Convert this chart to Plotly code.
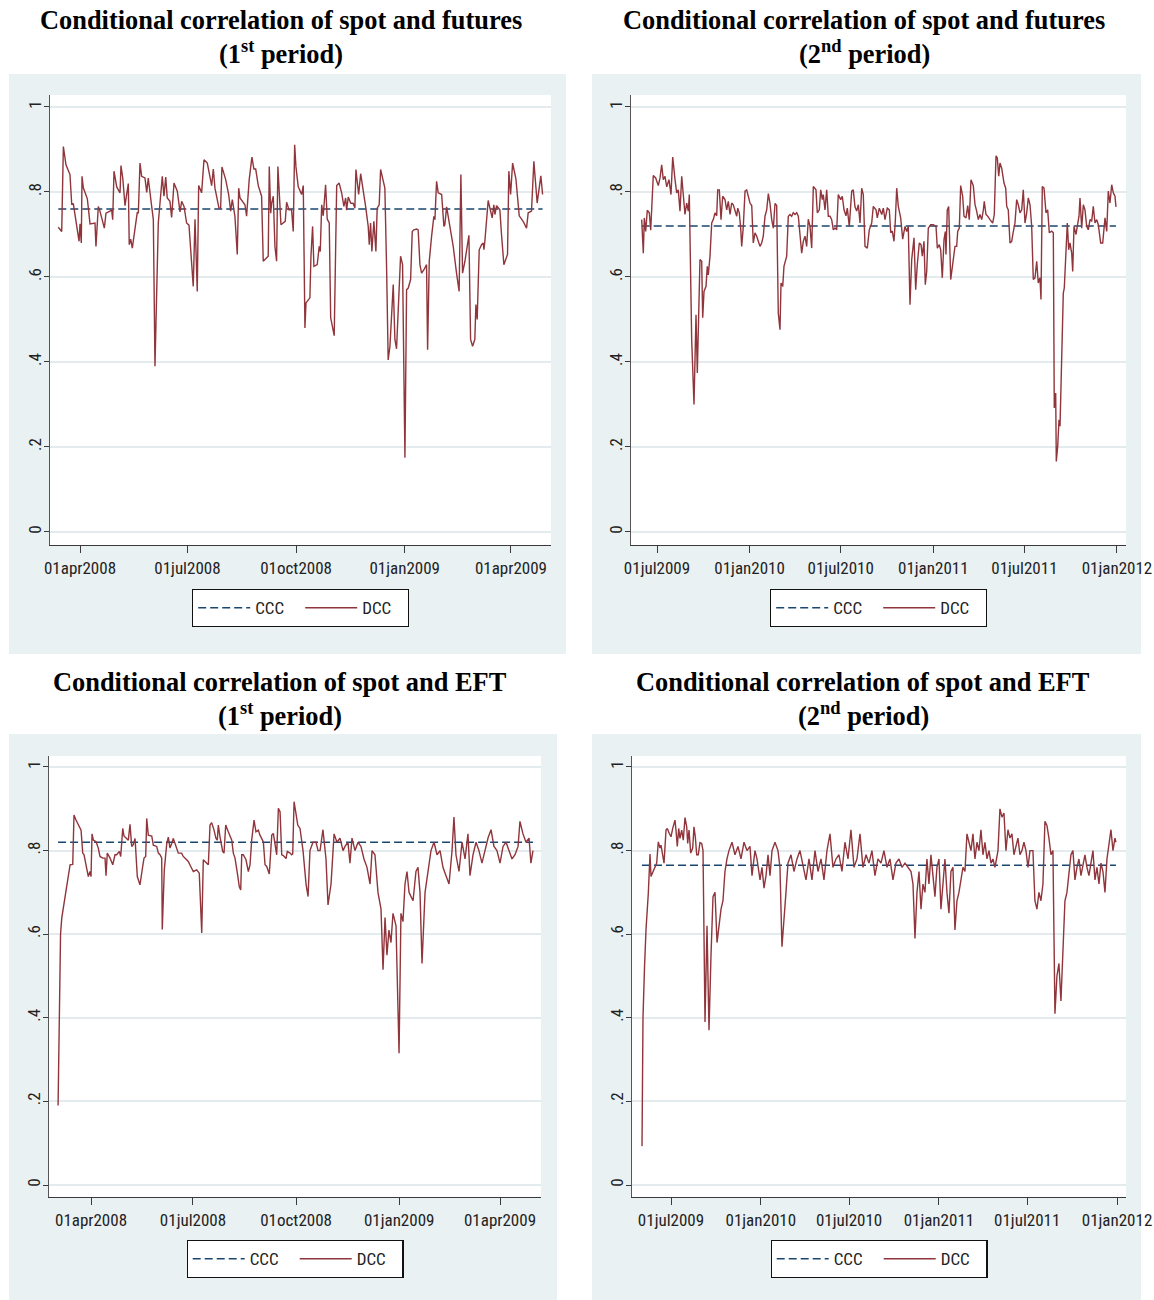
import pandas as pd
import plotly.graph_objects as go

W, H = 1154, 1300

# ---------------------------------------------------------------- data
# DCC correlations: observation day (days after the start date) and value.
p1_start = "2008-03-01"
p1_days = [12.6, 15.5, 16.9, 19.1, 22.5, 24.0, 25.3, 26.8, 30.2, 31.0, 32.1, 32.7, 33.8, 37.2, 39.5, 43.7, 44.5, 46.5,
           47.9, 51.6, 53.0, 56.4, 57.8, 58.7, 59.8, 62.1, 64.9, 65.7, 67.2, 69.1, 71.9, 72.7, 73.9, 75.3, 76.7, 79.5,
           80.4, 81.8, 83.2, 86.0, 87.5, 88.8, 91.7, 93.1, 94.5, 95.9, 97.3, 100.7, 102.1, 103.6, 104.9, 107.2, 108.6,
           110.6, 113.4, 115.7, 117.1, 119.1, 121.3, 123.3, 126.9, 128.4, 130.3, 131.5, 134.0, 136.0, 138.8, 142.5,
           143.9, 145.3, 148.7, 150.1, 151.2, 154.4, 156.9, 158.6, 160.0, 162.2, 164.2, 165.4, 166.5, 170.7, 172.1,
           174.3, 176.6, 178.3, 179.8, 182.0, 184.8, 186.2, 190.4, 191.3, 192.5, 193.3, 194.7, 196.1, 197.5, 198.6,
           201.2, 204.8, 206.0, 208.0, 210.2, 211.6, 212.8, 213.9, 215.8, 218.7, 220.1, 221.5, 222.4, 225.7, 226.6,
           228.0, 229.1, 231.9, 233.6, 234.5, 235.7, 237.0, 239.0, 240.4, 242.1, 243.3, 246.3, 248.4, 250.5, 252.6,
           254.5, 256.0, 256.8, 258.2, 260.2, 262.4, 263.8, 264.7, 267.0, 268.7, 270.9, 272.9, 275.1, 276.0, 277.1,
           278.2, 279.9, 281.6, 282.7, 284.4, 285.6, 289.2, 290.7, 292.0, 293.5, 296.3, 297.7, 299.1, 302.5, 304.2,
           306.2, 307.6, 309.0, 311.0, 312.4, 313.8, 316.1, 317.4, 318.9, 320.3, 322.3, 324.5, 325.4, 326.8, 328.8,
           330.7, 331.6, 333.0, 334.4, 337.3, 339.2, 340.0, 341.5, 342.8, 345.7, 347.1, 349.9, 352.1, 353.6, 355.0,
           357.0, 360.4, 361.8, 363.5, 365.4, 366.3, 367.4, 369.1, 371.1, 372.5, 373.1, 373.9, 376.7, 378.1, 380.1,
           381.5, 382.4, 383.8, 386.6, 388.0, 390.0, 393.1, 394.2, 395.7, 397.4, 400.2, 403.0, 406.3, 409.2, 410.6,
           413.4, 415.4, 418.2, 421.3, 422.8]
p1_dcc = [.717, .707, .907, .864, .841, .770, .773, .743, .684, .725, .680, .837, .810, .784, .725, .727, .672, .766,
          .755, .715, .750, .755, .758, .735, .849, .812, .798, .862, .833, .768, .820, .676, .689, .668, .696, .752,
          .750, .868, .837, .833, .799, .833, .766, .735, .390, .550, .727, .837, .790, .835, .786, .778, .740,
          .821, .802, .753, .778, .766, .727, .722, .578, .736, .566, .815, .798, .876, .868, .815,
          .854, .809, .762, .762, .859, .829, .794, .755, .782, .743, .653, .809, .786, .770, .743,
          .829, .882, .854, .854, .815, .790, .637, .649, .860, .750, .773, .790, .672, .637, .860,
          .723, .731, .776, .758, .758, .707, .911, .859, .813, .794, .815, .480, .539, .551, .649,
          .719, .625, .629, .672, .660, .770, .744, .817, .736, .727, .504, .462, .815, .821, .798,
          .766, .786, .757, .788, .774, .773, .762, .853, .794, .843, .805, .766, .719, .676, .727,
          .660, .731, .660, .762, .770, .853, .809, .617, .405, .437, .582, .453, .431, .649, .629,
          .175, .570, .574, .594, .707, .711, .713, .711, .629, .609, .617, .629, .429, .637, .696,
          .743, .735, .825, .798, .794, .719, .723, .765, .743, .704, .672, .609, .566, .841, .609,
          .637, .698, .453, .437, .453, .535, .500, .664, .676, .680, .664, .684, .780, .762, .739,
          .770, .747, .768, .758, .700, .629, .653, .849, .794, .868, .831, .744, .731, .715, .751,
          .755, .872, .774, .838, .794]

p2_start = "2009-05-01"
p2_days = [30.6, 33.8, 35.8, 38.5, 41.7, 45.7, 48.5, 50.5, 53.6, 58.4, 63.6, 67.0, 70.3, 73.5, 76.9, 80.3, 84.8, 88.8,
           92.2, 96.8, 100.1, 103.3, 106.7, 110.1, 113.3, 116.6, 120.0, 123.2, 125.2, 128.0, 129.9, 134.5, 138.5,
           141.1, 146.4, 149.8, 151.8, 154.4, 158.4, 160.9, 162.9, 166.3, 169.7, 172.9, 176.2, 179.6, 181.6, 184.8,
           188.2, 191.5, 196.1, 199.5, 202.7, 206.1, 209.4, 212.6, 216.0, 219.4, 221.4, 224.5, 227.3, 229.3, 232.5,
           235.9, 239.2, 242.4, 245.8, 249.2, 252.3, 255.7, 259.1, 262.3, 265.7, 269.0, 272.2, 275.6, 279.0, 282.2,
           285.5, 288.9, 292.1, 295.5, 298.8, 302.0, 305.4, 307.4, 310.8, 313.3, 318.7, 321.9, 325.3, 328.6, 331.8,
           335.2, 338.6, 341.8, 345.1, 348.5, 351.7, 355.1, 358.4, 361.6, 365.0, 368.4, 371.6, 376.9, 379.5, 383.5,
           386.3, 389.5, 391.4, 394.8, 398.2, 401.4, 404.8, 408.1, 411.3, 414.7, 418.1, 421.2, 426.0, 429.2, 432.6,
           436.5, 439.1, 443.1, 447.9, 451.0, 454.4, 457.8, 461.0, 464.4, 467.7, 470.9, 474.3, 478.9, 482.8, 487.6,
           490.8, 496.2, 498.7, 502.7, 507.5, 510.7, 514.0, 518.6, 522.6, 525.4, 528.5, 531.9, 534.5, 537.3, 540.5,
           545.2, 549.2, 553.8, 557.2, 560.3, 563.7, 567.1, 571.7, 575.0, 578.2, 582.2, 585.6, 588.2, 591.5, 594.1,
           596.9, 600.1, 604.8, 610.0, 615.4, 618.0, 621.9, 624.7, 627.9, 631.3, 633.9, 635.2, 637.8, 640.6, 644.6,
           649.7, 653.1, 656.5, 658.5, 661.7, 664.4, 668.4, 671.0, 675.0, 678.4, 681.5, 684.9, 689.5, 692.9, 696.2,
           699.4, 702.8, 706.2, 709.4, 711.3, 714.7, 718.1, 722.7, 728.0, 731.2, 734.6, 737.2, 740.0, 742.5, 745.9,
           750.5, 753.9, 755.9, 759.0, 762.4, 765.8, 769.0, 772.3, 775.7, 778.9, 782.3, 785.7, 788.8, 792.2, 795.6,
           798.8, 802.2, 805.5, 808.7, 812.1, 815.5, 818.6, 822.0, 824.0, 826.6, 830.0, 833.9, 837.3, 840.5, 845.3,
           848.5, 850.4, 853.2, 854.4, 857.2, 859.8, 861.8, 865.1, 868.3, 870.3, 873.7, 876.3, 879.0, 881.6, 885.0,
           887.0, 889.6, 893.6, 896.1, 899.5, 901.5, 904.9, 908.1, 911.4, 914.8, 918.0, 921.4, 924.7, 927.9, 931.3,
           934.7, 937.9, 942.6, 946.6, 951.2, 954.6, 957.7, 961.1, 964.5, 967.7, 971.0, 973.0]
p2_dcc = [.735, .656, .739, .707, .757, .751, .710, .751, .839, .833, .815, .833, .864, .829, .837, .812, .829, .794,
          .882, .829, .798, .805, .755, .837, .794, .747, .774, .755, .794, .625, .453, .300, .511,
          .374, .641, .637, .504, .566, .578, .625, .605, .649, .727, .735, .751, .744, .805, .805,
          .735, .790, .782, .758, .778, .747, .774, .770, .755, .743, .762, .751, .715, .672, .719,
          .802, .805, .786, .774, .768, .680, .704, .696, .684, .672, .680, .696, .743, .758, .796,
          .773, .735, .715, .773, .768, .515, .476, .586, .578, .625, .649, .743, .747, .743, .751,
          .747, .751, .743, .700, .656, .684, .696, .672, .736, .719, .668, .813, .805, .751, .758,
          .805, .782, .794, .758, .805, .743, .743, .735, .711, .715, .711, .794, .782, .790, .758,
          .744, .762, .719, .802, .805, .765, .755, .770, .727, .809, .794, .672, .668, .711, .727,
          .766, .758, .739, .762, .747, .762, .735, .762, .758, .704, .708, .684, .731, .809, .766,
          .739, .689, .719, .707, .719, .535, .641, .692, .570, .629, .680, .676, .649, .684, .582,
          .613, .715, .723, .723, .719, .668, .676, .664, .598, .688, .707, .653, .758, .766, .594,
          .641, .672, .672, .707, .715, .815, .790, .743, .739, .768, .735, .829, .815, .770, .755,
          .735, .747, .735, .757, .778, .747, .743, .735, .727, .747, .885, .880, .837, .868, .856,
          .821, .809, .766, .758, .680, .684, .707, .727, .782, .770, .751, .758, .805, .727, .751,
          .786, .770, .719, .594, .598, .637, .586, .598, .547, .813, .809, .751, .758, .704, .708,
          .704, .292, .327, .166, .202, .264, .249, .445, .562, .574, .672, .727, .664, .680, .656,
          .613, .719, .700, .719, .743, .786, .715, .770, .758, .719, .711, .735, .731, .766, .727,
          .735, .723, .680, .680, .739, .707, .802, .774, .817, .798, .790, .765]

p3_start = "2008-03-01"
p3_days = [1.6, 3.8, 4.9, 7.8, 10.7, 12.3, 14.7, 15.8, 17.6, 19.7, 22.1, 23.6, 24.8, 26.5, 28.6, 30.1, 31.0, 31.9,
           33.1, 35.5, 37.5, 39.0, 41.4, 43.5, 44.4, 45.5, 48.0, 50.4, 52.4, 53.9, 56.3, 57.5, 59.3, 60.4, 62.9,
           64.3, 65.8, 67.3, 68.7, 70.3, 72.3, 74.7, 77.1, 78.3, 79.8, 80.7, 82.1, 85.2, 86.6, 89.6, 91.1, 92.6,
           94.1, 94.6, 96.4, 98.6, 100.0, 101.5, 103.0, 104.4, 106.9, 108.9, 111.9, 113.3, 114.8, 117.8, 120.0,
           122.3, 125.3, 127.6, 129.8, 131.2, 132.7, 134.3, 135.7, 137.2, 138.7, 140.8, 142.5, 143.7, 144.6, 146.1,
           148.5, 149.7, 151.2, 153.5, 156.6, 158.0, 159.5, 161.6, 163.3, 164.6, 165.5, 166.9, 169.3, 171.4, 172.9,
           174.4, 176.5, 178.2, 180.3, 181.8, 184.8, 186.3, 187.8, 190.1, 192.3, 193.7, 195.2, 196.7, 198.2, 199.7,
           201.2, 202.6, 205.0, 206.2, 208.6, 210.1, 211.0, 212.2, 213.9, 215.5, 217.5, 220.2, 222.9, 224.7, 226.4,
           229.1, 231.8, 233.6, 235.4, 238.0, 240.7, 242.5, 245.2, 247.9, 250.5, 253.2, 255.9, 257.7, 260.3, 262.1,
           263.9, 266.6, 269.3, 271.9, 274.6, 277.3, 280.0, 281.8, 284.4, 287.1, 289.8, 291.6, 293.4, 295.1, 296.9,
           298.7, 300.5, 303.2, 305.9, 307.6, 309.4, 311.2, 313.0, 314.8, 316.6, 318.4, 321.0, 322.8, 324.6, 326.4,
           329.1, 331.7, 334.4, 337.1, 339.8, 342.5, 345.1, 347.8, 350.5, 353.2, 354.9, 356.7, 359.4, 362.1, 364.8,
           367.4, 369.2, 371.9, 374.6, 377.2, 379.9, 382.6, 385.3, 388.0, 390.6, 393.3, 396.0, 398.7, 401.4, 404.0,
           406.7, 409.4, 412.1, 413.8, 416.5, 419.2, 421.9, 423.6, 425.4]
p3_dcc = [.19, .60, .639, .687, .730, .766, .767, .885, .873, .861, .849, .794, .790, .766, .738, .750, .738, .840,
          .825, .821, .806, .786, .782, .782, .740, .794, .782, .766, .790, .790, .798, .786, .853, .835, .829,
          .825, .863, .810, .814, .829, .738, .718, .762, .782, .786, .877, .837, .835, .813, .810, .794, .790,
          .782, .611, .754, .817, .832, .806, .817, .829, .810, .794, .794, .786, .782, .774, .762,
          .750, .754, .746, .603, .778, .774, .770, .766, .861, .867, .849, .829, .825, .861, .833,
          .798, .794, .861, .845, .825, .794, .782, .746, .714, .706, .790, .790, .778, .750, .766,
          .825, .873, .845, .849, .837, .821, .766, .762, .744, .837, .841, .813, .790, .901, .893,
          .790, .788, .781, .798, .794, .790, .792, .917, .889, .861, .853, .80, .72, .69, .80,
          .82, .82, .80, .80, .85, .78, .67, .72, .84, .82, .83, .80, .81, .82, .77,
          .83, .80, .82, .81, .78, .76, .72, .80, .79, .70, .66, .515, .64, .55, .61,
          .58, .65, .62, .315, .65, .63, .72, .75, .70, .69, .68, .75, .76, .70, .53,
          .70, .75, .80, .82, .79, .80, .76, .74, .72, .80, .88, .79, .75, .82, .78,
          .84, .74, .79, .82, .80, .77, .80, .83, .85, .81, .80, .77, .81, .82, .80,
          .78, .79, .81, .87, .84, .82, .83, .77, .80]

p4_start = "2009-05-01"
p4_days = [1.6, 3.6, 6.7, 9.8, 14.5, 18.0, 20.0, 24.7, 28.2, 31.7, 35.0, 38.5, 40.5, 44.0, 46.7, 50.8, 53.4, 57.5,
           61.0, 64.5, 69.2, 71.2, 73.9, 76.8, 79.4, 82.9, 86.2, 89.7, 93.2, 95.2, 97.9, 101.4, 105.5, 108.1, 110.8,
           113.7, 116.9, 120.4, 123.9, 126.6, 130.7, 134.8, 138.9, 143.0, 147.1, 151.2, 155.3, 159.4, 163.5, 167.5,
           171.6, 175.7, 179.8, 186.0, 192.1, 198.3, 204.4, 210.6, 216.7, 222.9, 227.0, 233.1, 237.2, 243.4, 247.5,
           251.6, 255.7, 259.8, 263.9, 268.0, 274.1, 280.2, 284.3, 288.4, 292.5, 296.6, 300.7, 306.9, 313.0, 319.2,
           325.3, 331.5, 337.6, 343.8, 349.9, 356.1, 362.2, 368.4, 374.5, 380.6, 386.8, 392.9, 399.1, 405.2, 411.4,
           417.5, 423.7, 429.8, 436.0, 442.1, 448.3, 454.4, 460.6, 466.7, 472.8, 479.0, 485.1, 491.3, 497.4, 503.6,
           509.7, 515.9, 522.0, 528.2, 534.3, 540.5, 546.6, 552.8, 556.9, 561.0, 565.1, 569.2, 573.3, 577.3, 581.4,
           585.5, 589.6, 593.7, 597.8, 601.9, 606.0, 610.1, 614.2, 618.3, 622.4, 626.5, 630.6, 634.7, 638.8, 642.9,
           647.0, 651.1, 655.2, 659.3, 663.4, 667.5, 671.6, 675.7, 679.8, 683.9, 688.0, 692.1, 696.2, 700.3, 704.4,
           708.5, 712.6, 716.7, 720.8, 724.9, 731.1, 735.1, 739.2, 743.3, 747.4, 751.5, 755.6, 759.7, 763.8, 767.9,
           772.0, 776.1, 780.2, 784.3, 788.4, 792.5, 796.6, 802.7, 806.8, 810.9, 815.0, 819.1, 823.2, 827.3, 831.4,
           835.5, 839.6, 843.7, 847.8, 851.9, 856.0, 860.1, 864.2, 868.3, 872.4, 876.5, 880.6, 884.7, 888.8, 892.9,
           897.0, 901.1, 905.2, 909.3, 913.4, 917.5, 921.6, 925.7, 929.8, 933.9, 938.0, 942.1, 946.2, 950.3, 954.4,
           958.5, 962.6, 966.7, 970.8, 972.8]
p4_dcc = [.093, .40, .52, .611, .698, .792, .738, .750, .758, .770, .821, .806, .813, .786, .770, .849, .853, .841,
          .833, .853, .873, .849, .810, .853, .829, .849, .825, .879, .857, .817, .849, .794, .806, .857, .833,
          .790, .790, .819, .817, .80, .39, .62, .37, .55, .69, .70, .58, .62, .66, .68,
          .75, .78, .80, .82, .79, .81, .78, .82, .80, .81, .74, .80, .78, .73, .76,
          .71, .74, .79, .74, .80, .82, .80, .76, .57, .65, .70, .77, .79, .75, .78,
          .80, .76, .73, .78, .73, .80, .75, .78, .73, .80, .84, .76, .78, .79, .75,
          .82, .78, .85, .76, .78, .84, .76, .79, .77, .80, .74, .78, .77, .80, .76,
          .78, .73, .77, .78, .76, .77, .76, .75, .72, .59, .70, .75, .66, .72, .70,
          .78, .72, .79, .74, .69, .76, .78, .66, .72, .78, .70, .65, .75, .76, .61,
          .68, .70, .73, .76, .75, .84, .82, .80, .84, .78, .82, .80, .85, .79, .82,
          .78, .80, .77, .78, .76, .80, .90, .88, .89, .80, .85, .83, .84, .79, .81,
          .83, .79, .80, .82, .80, .76, .80, .80, .68, .66, .70, .68, .72, .87, .86,
          .83, .79, .80, .41, .50, .53, .44, .58, .68, .70, .75, .79, .80, .73, .76,
          .78, .74, .77, .79, .76, .74, .77, .80, .73, .76, .72, .77, .75, .70, .78,
          .82, .85, .80, .83, .82]

# Constant conditional correlation estimates
ccc = [0.76, 0.72, 0.82, 0.765]

titles = ["Conditional correlation of spot and futures", "Conditional correlation of spot and futures",
          "Conditional correlation of spot and EFT", "Conditional correlation of spot and EFT"]
periods = ["(1<sup>st</sup> period)", "(2<sup>nd</sup> period)", "(1<sup>st</sup> period)", "(2<sup>nd</sup> period)"]

tick_dates_1 = ["2008-04-01", "2008-07-01", "2008-10-01", "2009-01-01", "2009-04-01"]
tick_text_1 = ["01apr2008", "01jul2008", "01oct2008", "01jan2009", "01apr2009"]
tick_dates_2 = ["2009-07-01", "2010-01-01", "2010-07-01", "2011-01-01", "2011-07-01", "2012-01-01"]
tick_text_2 = ["01jul2009", "01jan2010", "01jul2010", "01jan2011", "01jul2011", "01jan2012"]
y_ticks = [0, 0.2, 0.4, 0.6, 0.8, 1.0]
y_text = ["0", ".2", ".4", ".6", ".8", "1"]

series = [(p1_start, p1_days, p1_dcc), (p2_start, p2_days, p2_dcc),
          (p3_start, p3_days, p3_dcc), (p4_start, p4_days, p4_dcc)]
ticks = [(tick_dates_1, tick_text_1), (tick_dates_2, tick_text_2),
         (tick_dates_1, tick_text_1), (tick_dates_2, tick_text_2)]

# ---------------------------------------------------------------- layout (pixels)
# plot area: left, right, top, bottom
plot_px = [(50, 551, 95, 545), (631, 1126, 95, 545), (49, 541, 756, 1197), (632, 1126, 756, 1197)]
# panel background: left, right, top, bottom
panel_px = [(9, 566, 74, 654), (592, 1141, 74, 654), (9, 557, 734, 1300), (592, 1141, 734, 1300)]
x_ranges = [("2008-03-06 14:00", "2009-05-04 22:00"), ("2009-05-10 08:00", "2012-01-18 22:00"),
            ("2008-02-23 12:00", "2009-05-07 14:00"), ("2009-04-12 02:00", "2012-01-19 10:00")]
y_ranges = [(-0.0306, 1.0282), (-0.0306, 1.0282), (-0.0287, 1.0263), (-0.0287, 1.0263)]
title_px = [(281, 20, 52), (864, 20, 52), (280, 682, 714), (863, 682, 714)]
legend_top = [589, 589, 1240, 1240]

NAVY = "#1a476f"
MAROON = "#90353b"
BG = "#eaf1f3"
GRID = "#e3ebee"
AXIS = "#3a3a3a"
SANS = "Liberation Sans Narrow, Arial Narrow, Roboto Condensed, Liberation Sans, Arial, sans-serif"
SERIF = "Liberation Serif, Times New Roman, serif"


def fx(px):
    return px / W


def fy(py):
    return 1 - py / H


fig = go.Figure()
shapes = []
annotations = []
layout = {}

for i in range(4):
    start, days, dcc = series[i]
    dates = pd.Timestamp(start) + pd.to_timedelta(days, unit="D")
    n = "" if i == 0 else str(i + 1)
    xa, ya = "x" + n, "y" + n
    leg = "legend" + n

    fig.add_trace(go.Scatter(
        x=[dates[0], dates[-1]], y=[ccc[i], ccc[i]], mode="lines", name="CCC",
        line=dict(color=NAVY, width=1.6, dash="8px,4px"),
        xaxis=xa, yaxis=ya, legend=leg, showlegend=True))
    fig.add_trace(go.Scatter(
        x=dates, y=dcc, mode="lines", name="DCC",
        line=dict(color=MAROON, width=1.4),
        xaxis=xa, yaxis=ya, legend=leg, showlegend=True))

    l, r, t, b = plot_px[i]
    pl, pr, pt, pb = panel_px[i]
    shapes.append(dict(type="rect", xref="paper", yref="paper", layer="below",
                       x0=fx(pl), x1=fx(pr), y0=fy(pb), y1=fy(pt),
                       fillcolor=BG, line=dict(width=0)))
    shapes.append(dict(type="rect", xref="paper", yref="paper", layer="below",
                       x0=fx(l), x1=fx(r), y0=fy(b), y1=fy(t),
                       fillcolor="white", line=dict(width=0)))

    tv, tt = ticks[i]
    layout["xaxis" + n] = dict(
        domain=[fx(l), fx(r)], anchor=ya, type="date", range=list(x_ranges[i]), automargin=False,
        tickvals=tv, ticktext=tt, ticks="outside", ticklen=7, tickwidth=1.2, tickcolor=AXIS,
        showline=True, linecolor=AXIS, linewidth=1.4, showgrid=False, zeroline=False,
        tickfont=dict(family=SANS, size=17, color="#222"))
    layout["yaxis" + n] = dict(
        domain=[fy(b), fy(t)], anchor=xa, range=list(y_ranges[i]), automargin=False,
        tickvals=y_ticks, ticktext=y_text, tickangle=-90, ticks="outside", ticklen=5,
        ticklabelstandoff=-4,
        tickwidth=1.2, tickcolor=AXIS, showline=True, linecolor="#555", linewidth=1.4,
        showgrid=True, gridcolor=GRID, gridwidth=1.6, zeroline=False,
        tickfont=dict(family=SANS, size=17, color="#222"))
    layout[leg] = dict(
        orientation="h", x=fx((l + r) / 2), xanchor="center", y=fy(legend_top[i]), yanchor="top",
        bgcolor="white", bordercolor="#111", borderwidth=1.2, itemwidth=52, entrywidth=40,
        font=dict(family=SANS, size=17, color="#222"), traceorder="normal")

    cx, ty1, ty2 = title_px[i]
    annotations.append(dict(text=f"<b>{titles[i]}</b>", x=fx(cx), y=fy(ty1), xref="paper", yref="paper",
                            xanchor="center", yanchor="middle", showarrow=False,
                            font=dict(family=SERIF, size=26.4, color="black")))
    annotations.append(dict(text=f"<b>{periods[i]}</b>", x=fx(cx), y=fy(ty2), xref="paper", yref="paper",
                            xanchor="center", yanchor="middle", showarrow=False,
                            font=dict(family=SERIF, size=26.4, color="black")))

fig.update_layout(
    width=W, height=H, autosize=False, margin=dict(l=0, r=0, t=0, b=0, autoexpand=False),
    paper_bgcolor="white", plot_bgcolor="rgba(0,0,0,0)",
    shapes=shapes, annotations=annotations, **layout)

fig.write_html("out.html", config={"responsive": False})
